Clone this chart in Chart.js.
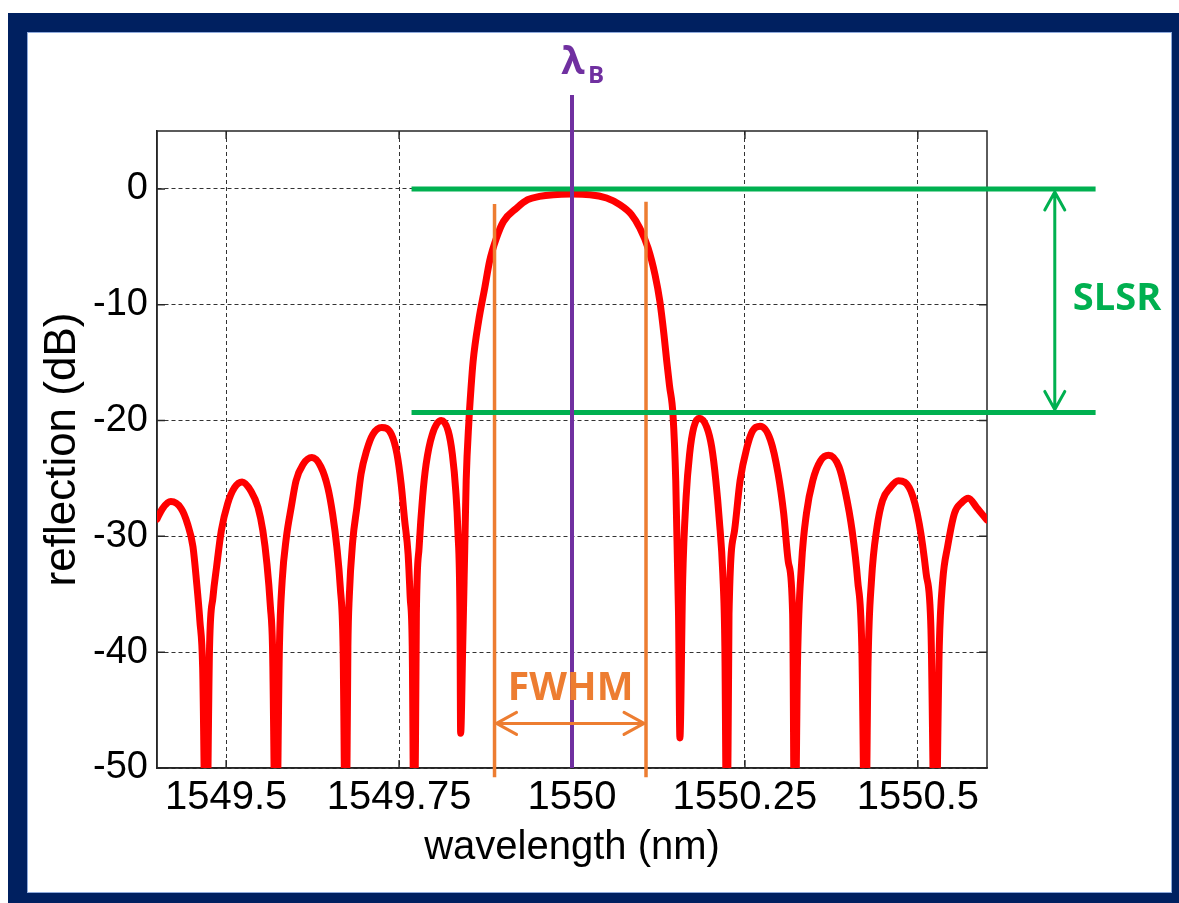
<!DOCTYPE html>
<html>
<head>
<meta charset="utf-8">
<script src="https://cdn.jsdelivr.net/npm/chart.js@4"></script>
<style>
    html, body { margin: 0; padding: 0; background: #fff; width: 1179px; height: 903px; overflow: hidden; }
    .frame { position: absolute; left: 8px; top: 13px; width: 1171px; height: 890px; background: #002060; }
    .panel { position: absolute; left: 27px; top: 32px; width: 1145px; height: 861px; box-sizing: border-box;
             background: #fff; border: 1px solid #8ea9db; }
    #chart { position: absolute; left: 0; top: 0; }
</style>
</head>
<body>
<div class="frame"></div>
<div class="panel"></div>
<canvas id="chart" width="1179" height="903"></canvas>
<script>
const AXIS_FONT  = "'Liberation Sans', Arial, sans-serif";
const LABEL_FONT = "'Open Sans', sans-serif";

const RED    = '#ff0000';
const GREEN  = '#00b050';
const ORANGE = '#ed7d31';
const PURPLE = '#7030a0';

// reflection spectrum (nm, dB); -60 = notch below the axis
const WAVELENGTH = [
    1549.400, 1549.408, 1549.420, 1549.435, 1549.444, 1549.452, 1549.457, 1549.462, 1549.466, 1549.471,
    1549.476, 1549.481, 1549.486, 1549.493, 1549.502, 1549.512, 1549.523, 1549.536, 1549.546, 1549.553,
    1549.559, 1549.564, 1549.567, 1549.572, 1549.577, 1549.581, 1549.587, 1549.594, 1549.601, 1549.611,
    1549.624, 1549.637, 1549.647, 1549.654, 1549.660, 1549.665, 1549.669, 1549.673, 1549.676, 1549.678,
    1549.683, 1549.689, 1549.695, 1549.703, 1549.712, 1549.725, 1549.739, 1549.747, 1549.753, 1549.758,
    1549.763, 1549.766, 1549.769, 1549.772, 1549.775, 1549.779, 1549.784, 1549.789, 1549.798, 1549.811,
    1549.821, 1549.827, 1549.832, 1549.835, 1549.838, 1549.839, 1549.842, 1549.845, 1549.847, 1549.851,
    1549.854, 1549.857, 1549.865, 1549.874, 1549.881, 1549.891, 1549.901, 1549.920, 1549.936, 1549.953,
    1549.973, 1549.999, 1550.026, 1550.050, 1550.069, 1550.086, 1550.098, 1550.110, 1550.120, 1550.127,
    1550.133, 1550.137, 1550.141, 1550.146, 1550.150, 1550.154, 1550.156, 1550.160, 1550.165, 1550.170,
    1550.176, 1550.184, 1550.195, 1550.202, 1550.208, 1550.213, 1550.218, 1550.221, 1550.224, 1550.227,
    1550.235, 1550.243, 1550.253, 1550.261, 1550.272, 1550.287, 1550.298, 1550.306, 1550.313, 1550.319,
    1550.322, 1550.326, 1550.332, 1550.339, 1550.348, 1550.359, 1550.371, 1550.386, 1550.395, 1550.405,
    1550.413, 1550.419, 1550.424, 1550.428, 1550.433, 1550.441, 1550.449, 1550.460, 1550.472, 1550.490,
    1550.502, 1550.512, 1550.519, 1550.525, 1550.531, 1550.536, 1550.543, 1550.553, 1550.563, 1550.573,
    1550.585, 1550.600,
];
const REFLECTION = [
    -28.5, -27.6, -27.0, -27.6, -28.9, -30.9, -33.8, -37.3, -41.3, -60,
    -39.5, -35.2, -32.7, -29.5, -27.2, -25.8, -25.3, -26.1, -27.5, -29.5,
    -32.4, -36.1, -39.5, -60,   -39.5, -33.8, -30.1, -27.5, -25.2, -23.8,
    -23.2, -24.0, -25.8, -28.1, -30.9, -34.4, -39.5, -60,   -39.5, -35.2,
    -30.4, -27.5, -24.6, -22.6, -21.2, -20.6, -21.2, -22.9, -25.5, -28.6,
    -31.5, -35.2, -39.5, -60,   -36.7, -30.9, -26.6, -23.8, -21.2, -20.0,
    -20.9, -22.9, -26.1, -29.5, -36.7, -47.0, -39.5, -30.9, -25.2, -20.0,
    -17.2, -14.9, -11.4, -8.5,  -6.2,  -4.2,  -2.8,  -1.65, -0.93, -0.65,
    -0.5,  -0.45, -0.5,  -0.79, -1.36, -2.22, -3.38, -5.1,  -7.4,  -9.7,
    -12.6, -14.9, -17.0, -19.5, -25.2, -36.7, -47.4, -33.8, -26.6, -22.9,
    -20.6, -19.8, -20.6, -22.3, -25.2, -28.6, -33.2, -39.5, -60,   -36.7,
    -29.5, -25.2, -22.3, -20.9, -20.5, -21.7, -24.6, -28.0, -32.3, -36.7,
    -60,   -41.0, -32.3, -28.0, -25.2, -23.5, -23.0, -24.0, -26.1, -29.5,
    -33.8, -39.5, -60,   -41.0, -33.8, -29.2, -26.9, -25.8, -25.2, -26.1,
    -28.9, -33.2, -38.1, -60,   -39.5, -33.8, -30.9, -28.0, -27.1, -26.7,
    -27.5, -28.6,
];

const X_TICKS       = [1549.5, 1549.75, 1550, 1550.25, 1550.5];
const X_TICK_LABELS = ['1549.5', '1549.75', '1550', '1550.25', '1550.5'];
const Y_TICKS       = [0, -10, -20, -30, -40, -50];
const Y_TICK_LABELS = ['0', '-10', '-20', '-30', '-40', '-50'];

// annotation positions, in data units
const LAMBDA_B       = 1550.0;
const LAMBDA_B_TOP   = 8.1;
const LAMBDA_B_LABEL = 9.9;
const SLSR_LEVELS    = [0, -19.3];
const SLSR_SPAN      = [1549.768, 1550.757];
const SLSR_ARROW_X   = 1550.698;
const SLSR_LABEL     = [1550.788, -9.5];
const FWHM_EDGES     = [1549.888, 1550.107];
const FWHM_TOPS      = [-1.3, -1.1];
const FWHM_BOTTOM    = -50.8;
const FWHM_ARROW_Y   = -46.15;
const FWHM_LABEL     = [1549.998, -43.2];

function vline(xv, y0, y1, color, width) {
    return {
        data: [{ x: xv, y: y0 }, { x: xv, y: y1 }],
        borderColor: color, borderWidth: width, pointRadius: 0,
        borderCapStyle: 'butt', clip: false,
    };
}

function hline(yv, x0, x1, color, width) {
    return {
        data: [{ x: x0, y: yv }, { x: x1, y: yv }],
        borderColor: color, borderWidth: width, pointRadius: 0,
        borderCapStyle: 'butt', clip: false,
    };
}

function doubleArrow(ctx, x1, y1, x2, y2, head, half) {
    const ang = Math.atan2(y2 - y1, x2 - x1);
    ctx.beginPath();
    ctx.moveTo(x1, y1);
    ctx.lineTo(x2, y2);
    [[x1, y1, ang], [x2, y2, ang + Math.PI]].forEach(([tx, ty, a]) => {
        const c = Math.cos(a), s = Math.sin(a);
        ctx.moveTo(tx + head * c - half * s, ty + head * s + half * c);
        ctx.lineTo(tx, ty);
        ctx.lineTo(tx + head * c + half * s, ty + head * s - half * c);
    });
    ctx.stroke();
}

const overlay = {
    id: 'overlay',
    beforeDatasetsDraw(chart) {
        const { ctx, chartArea: a, scales: { x, y } } = chart;
        ctx.save();
        ctx.setLineDash([]);
        ctx.strokeStyle = '#262626';
        ctx.lineWidth = 1.5;
        ctx.strokeRect(a.left, a.top, a.right - a.left, a.bottom - a.top);
        ctx.beginPath();
        X_TICKS.forEach(v => {
            const px = x.getPixelForValue(v);
            ctx.moveTo(px, a.bottom); ctx.lineTo(px, a.bottom - 8);
            ctx.moveTo(px, a.top);    ctx.lineTo(px, a.top + 8);
        });
        Y_TICKS.forEach(v => {
            const py = y.getPixelForValue(v);
            ctx.moveTo(a.left, py);  ctx.lineTo(a.left + 8, py);
            ctx.moveTo(a.right, py); ctx.lineTo(a.right - 8, py);
        });
        ctx.stroke();
        ctx.restore();
    },
    afterDatasetsDraw(chart) {
        const { ctx, scales: { x, y } } = chart;
        ctx.save();
        ctx.lineCap = 'round';
        ctx.lineJoin = 'round';

        // SLSR arrow + label
        ctx.strokeStyle = GREEN;
        ctx.lineWidth = 3;
        const gx = x.getPixelForValue(SLSR_ARROW_X);
        doubleArrow(ctx, gx, y.getPixelForValue(SLSR_LEVELS[0]) + 3,
                         gx, y.getPixelForValue(SLSR_LEVELS[1]) - 3, 18, 10);
        ctx.fillStyle = GREEN;
        ctx.font = `bold 38px ${LABEL_FONT}`;
        ctx.textAlign = 'center';
        ctx.textBaseline = 'middle';
        ctx.fillText('SLSR', x.getPixelForValue(SLSR_LABEL[0]), y.getPixelForValue(SLSR_LABEL[1]));

        // FWHM arrow + label
        ctx.strokeStyle = ORANGE;
        ctx.lineWidth = 3;
        const oy = y.getPixelForValue(FWHM_ARROW_Y);
        doubleArrow(ctx, x.getPixelForValue(FWHM_EDGES[0]) + 2, oy,
                         x.getPixelForValue(FWHM_EDGES[1]) - 2, oy, 20, 11);
        ctx.fillStyle = ORANGE;
        ctx.font = `bold 39px ${LABEL_FONT}`;
        ctx.fillText('FWHM', x.getPixelForValue(FWHM_LABEL[0]), y.getPixelForValue(FWHM_LABEL[1]));

        // lambda_B label
        const lx = x.getPixelForValue(LAMBDA_B);
        const ly = y.getPixelForValue(LAMBDA_B_LABEL);
        ctx.fillStyle = PURPLE;
        ctx.textBaseline = 'alphabetic';
        ctx.font = `bold 38px ${LABEL_FONT}`;
        ctx.fillText('λ', lx + 1, ly);
        ctx.textAlign = 'left';
        ctx.font = `bold 24px ${LABEL_FONT}`;
        ctx.fillText('B', lx + 16, ly + 9);
        ctx.restore();
    },
};

const spectrum = WAVELENGTH.map((w, i) => ({ x: w, y: REFLECTION[i] }));

new Chart(document.getElementById('chart'), {
    type: 'line',
    data: {
        datasets: [
            vline(LAMBDA_B, -50, LAMBDA_B_TOP, PURPLE, 4),
            hline(SLSR_LEVELS[0], SLSR_SPAN[0], SLSR_SPAN[1], GREEN, 5),
            hline(SLSR_LEVELS[1], SLSR_SPAN[0], SLSR_SPAN[1], GREEN, 5),
            vline(FWHM_EDGES[0], FWHM_BOTTOM, FWHM_TOPS[0], ORANGE, 3.5),
            vline(FWHM_EDGES[1], FWHM_BOTTOM, FWHM_TOPS[1], ORANGE, 3.5),
            {
                data: spectrum,
                borderColor: RED,
                borderWidth: 7,
                pointRadius: 0,
                cubicInterpolationMode: 'monotone',
                borderJoinStyle: 'round',
                borderCapStyle: 'round',
                clip: 0,
            },
        ],
    },
    options: {
        responsive: false,
        animation: false,
        devicePixelRatio: 1,
        layout: { padding: { top: 131, right: 192, bottom: 0, left: 0 } },
        plugins: { legend: { display: false }, tooltip: { enabled: false } },
        scales: {
            x: {
                type: 'linear',
                min: 1549.4,
                max: 1550.6,
                afterFit: s => { s.height = 135; },
                afterBuildTicks: s => { s.ticks = X_TICKS.map(v => ({ value: v })); },
                ticks: {
                    callback: (v, i) => X_TICK_LABELS[i],
                    font: { family: AXIS_FONT, size: 40 },
                    color: '#000',
                    padding: 6,
                    maxRotation: 0,
                    autoSkip: false,
                },
                grid: { color: '#333', lineWidth: 1, drawTicks: false },
                border: { color: '#262626', width: 1.5, dash: [4, 3] },
                title: {
                    display: true,
                    text: 'wavelength (nm)',
                    font: { family: AXIS_FONT, size: 40 },
                    color: '#000',
                    padding: { top: 0, bottom: 31 },
                },
            },
            y: {
                min: -50,
                max: 5,
                afterFit: s => { s.width = 157; },
                afterBuildTicks: s => { s.ticks = Y_TICKS.map(v => ({ value: v })); },
                ticks: {
                    callback: (v, i) => Y_TICK_LABELS[i],
                    font: { family: AXIS_FONT, size: 38 },
                    color: '#000',
                    padding: 9,
                    autoSkip: false,
                },
                grid: { color: '#333', lineWidth: 1, drawTicks: false },
                border: { color: '#262626', width: 1.5, dash: [4, 3] },
                title: {
                    display: true,
                    text: 'reflection (dB)',
                    font: { family: AXIS_FONT, size: 44 },
                    color: '#000',
                    padding: { top: 36, bottom: 0 },
                },
            },
        },
    },
    plugins: [overlay],
});
</script>
</body>
</html>
